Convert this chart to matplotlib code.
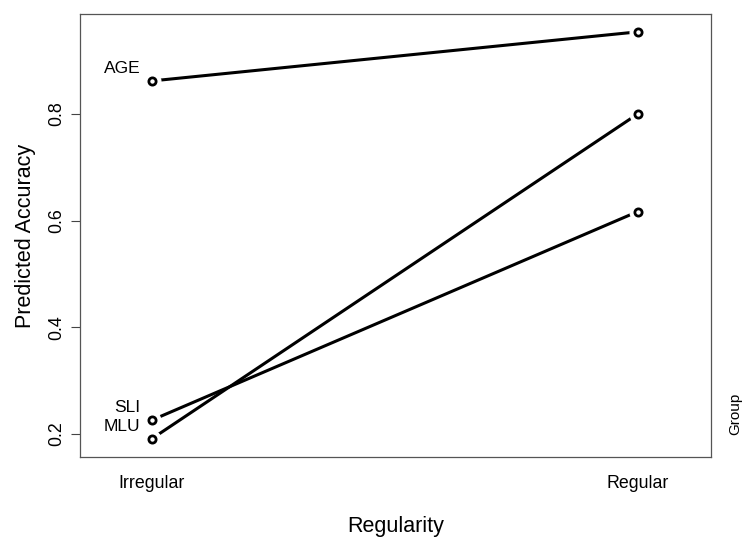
import numpy as np
import matplotlib
matplotlib.use("Agg")
import matplotlib.pyplot as plt

# data
regularity = ["Irregular", "Regular"]
groups = ["AGE", "SLI", "MLU"]
acc_age = [0.862, 0.954]
acc_sli = [0.226, 0.617]
acc_mlu = [0.191, 0.800]
yticks = [0.2, 0.4, 0.6, 0.8]

plt.rcParams['font.family'] = ['Liberation Sans', 'DejaVu Sans']

fig = plt.figure(figsize=(7.43, 5.38), dpi=100)
ax = fig.add_axes([80/743, 1 - 457/538, (711-80)/743, (457-14)/538])

x = np.arange(1, len(regularity) + 1)
for vals in [acc_age, acc_sli, acc_mlu]:
    ax.plot(x, vals, color='black', lw=2.2, zorder=2)
    # white halo gives the R type="b" gap between line and point
    ax.plot(x, vals, ls='none', marker='o', ms=12, mfc='white', mec='white', zorder=3)
    ax.plot(x, vals, ls='none', marker='o', ms=5.2, mfc='white', mec='black', mew=2, zorder=4)

# group labels up-left of the first point
for name, vals in zip(groups, [acc_age, acc_sli, acc_mlu]):
    ax.annotate(name, (1, vals[0]), xytext=(-8, 9), textcoords='offset points',
                ha='right', va='center', fontsize=12.5)

ax.set_xlim(0.8525, 2.151)
ax.set_ylim(0.157, 0.9875)
ax.set_xticks(x)
ax.set_xticklabels(regularity, fontsize=12.8)
ax.tick_params(axis='x', length=0, pad=13)
ax.set_yticks(yticks)
ax.set_yticklabels([str(t) for t in yticks], fontsize=12.8, rotation=90, va='center')
ax.tick_params(axis='y', length=6.5, width=0.8, color='#444444', pad=4)
for s in ax.spines.values():
    s.set_color('#555555')
    s.set_linewidth(0.9)

ax.set_xlabel("Regularity", fontsize=15.5, labelpad=17)
ax.set_ylabel("Predicted Accuracy", fontsize=15.5, labelpad=9)
fig.text(735/743, 1 - 414/538, "Group", rotation=90, ha='center', va='center', fontsize=11)

fig.savefig("out.png", dpi=100)
